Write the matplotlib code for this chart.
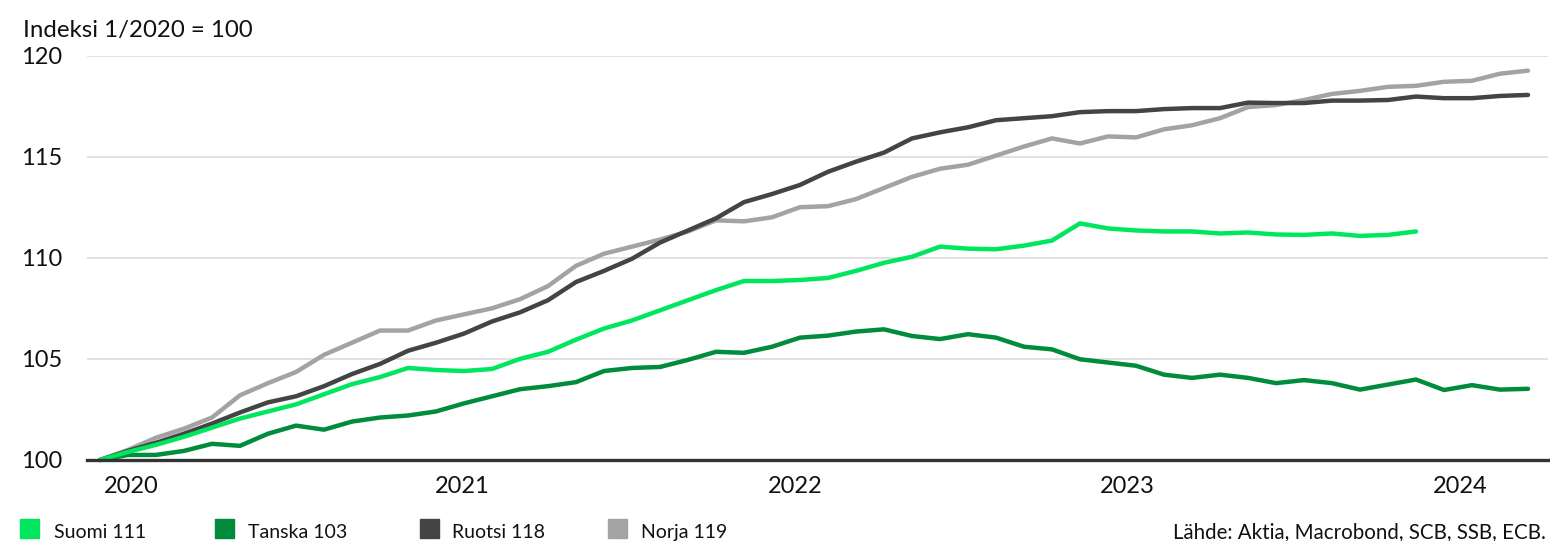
import numpy as np
import matplotlib
matplotlib.use("Agg")
import matplotlib.pyplot as plt
from matplotlib.patches import Rectangle

plt.rcParams['font.family'] = ['Lato', 'DejaVu Sans']

# Kuukausidata, indeksi 1/2020 = 100 (tammikuu 2020 ->)
suomi = [100, 100.4, 100.75, 101.15, 101.6, 102.05, 102.4, 102.75, 103.25, 103.75,
         104.1, 104.55, 104.45, 104.4, 104.5, 105.0, 105.35, 105.95, 106.5, 106.9,
         107.4, 107.9, 108.4, 108.85, 108.85, 108.9, 109.0, 109.35, 109.75, 110.05,
         110.55, 110.45, 110.42, 110.6, 110.85, 111.7, 111.45, 111.35, 111.3, 111.3,
         111.2, 111.25, 111.15, 111.13, 111.2, 111.08, 111.13, 111.3]
tanska = [100, 100.25, 100.25, 100.45, 100.8, 100.7, 101.3, 101.7, 101.5, 101.9,
          102.1, 102.2, 102.4, 102.8, 103.15, 103.5, 103.65, 103.85, 104.4, 104.55,
          104.6, 104.95, 105.35, 105.3, 105.6, 106.05, 106.15, 106.35, 106.46, 106.13,
          105.98, 106.22, 106.05, 105.6, 105.47, 104.98, 104.82, 104.66, 104.22, 104.06,
          104.22, 104.06, 103.8, 103.95, 103.8, 103.48, 103.73, 103.98, 103.46, 103.7,
          103.48, 103.52]
ruotsi = [100, 100.45, 100.85, 101.3, 101.8, 102.35, 102.85, 103.15, 103.65, 104.25,
          104.75, 105.4, 105.8, 106.25, 106.85, 107.3, 107.9, 108.8, 109.35, 109.95,
          110.75, 111.35, 111.95, 112.75, 113.15, 113.6, 114.25, 114.75, 115.2, 115.9,
          116.2, 116.45, 116.8, 116.9, 117.0, 117.2, 117.25, 117.25, 117.35, 117.4,
          117.4, 117.67, 117.65, 117.65, 117.77, 117.77, 117.8, 117.97, 117.89, 117.89,
          118.0, 118.05]
norja = [100, 100.5, 101.1, 101.55, 102.1, 103.2, 103.8, 104.35, 105.2, 105.8,
         106.4, 106.4, 106.9, 107.2, 107.5, 107.95, 108.6, 109.6, 110.2, 110.55,
         110.9, 111.3, 111.85, 111.8, 112.0, 112.5, 112.55, 112.9, 113.45, 114.0,
         114.4, 114.6, 115.05, 115.5, 115.9, 115.65, 116.0, 115.95, 116.35, 116.55,
         116.9, 117.45, 117.55, 117.8, 118.1, 118.25, 118.45, 118.5, 118.7, 118.75,
         119.1, 119.25]

vuodet = ["2020", "2021", "2022", "2023", "2024"]
vuosi_paikat = [1.1, 12.93, 24.82, 36.68, 48.57]
y_tikit = [100, 105, 110, 115, 120]

sarjat = [
    ("Norja 119", norja, "#a3a3a3"),
    ("Ruotsi 118", ruotsi, "#444444"),
    ("Tanska 103", tanska, "#008c3c"),
    ("Suomi 111", suomi, "#00e65f"),
]
legendan_jarjestys = [3, 2, 1, 0]

W, H = 1550, 541
fig = plt.figure(figsize=(W / 100, H / 100), dpi=100)
ax = fig.add_axes([87 / W, 1 - 460 / H, (1548 - 87) / W, (460 - 55.5) / H])

for nimi, arvot, vari in sarjat:
    ax.plot(np.arange(len(arvot)), arvot, color=vari, lw=3.2,
            solid_joinstyle='round', solid_capstyle='round', clip_on=False, zorder=3)

ax.set_xlim(-13 / 28, 1448 / 28)
ax.set_ylim(100, 120)
ax.set_yticks(y_tikit)
ax.set_yticklabels([str(v) for v in y_tikit])
ax.set_xticks(vuosi_paikat)
ax.set_xticklabels(vuodet)
ax.tick_params(axis='both', length=0, labelsize=17, colors='#111111')
ax.tick_params(axis='x', pad=11.5)
ax.tick_params(axis='y', pad=18)
ax.grid(axis='y', color='#dedede', lw=1.3, zorder=0)
for s in ['top', 'right', 'left']:
    ax.spines[s].set_visible(False)
ax.spines['bottom'].set_color('#333333')
ax.spines['bottom'].set_linewidth(2.4)
ax.spines['bottom'].set_zorder(4)

fig.text(23 / W, 1 - 37 / H, "Indeksi 1/2020 = 100", fontsize=17.3,
         color='#111111', ha='left', va='baseline')

# Selite
laatikko_x = [20, 215, 420, 608]
teksti_x = [54, 248, 452, 641]
for k, j in enumerate(legendan_jarjestys):
    nimi, arvot, vari = sarjat[j]
    fig.patches.append(Rectangle((laatikko_x[k] / W, 1 - 538 / H), 19 / W, 19 / H,
                                 transform=fig.transFigure, color=vari, figure=fig))
    fig.text(teksti_x[k] / W, 1 - 538 / H, nimi, fontsize=14, color='#111111',
             ha='left', va='baseline')

fig.text(1546 / W, 1 - 538 / H, "Lähde: Aktia, Macrobond, SCB, SSB, ECB.",
         fontsize=14.8, color='#111111', ha='right', va='baseline')

fig.savefig("out.png", dpi=100)
